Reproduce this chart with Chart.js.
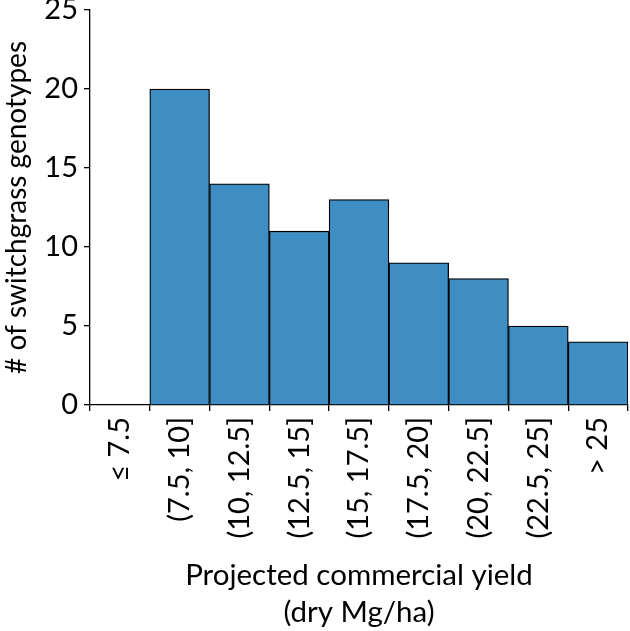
<!DOCTYPE html>
<html>
<head>
<meta charset="utf-8">
<script src="https://cdn.jsdelivr.net/npm/chart.js@4"></script>
<style>
html,body{margin:0;padding:0;background:#fff;}
#wrap{width:630px;height:631px;}
</style>
</head>
<body>
<div id="wrap"><canvas id="c" width="630" height="631"></canvas></div>
<script>
const categories = ["≤ 7.5", "(7.5, 10]", "(10, 12.5]", "(12.5, 15]", "(15, 17.5]", "(17.5, 20]", "(20, 22.5]", "(22.5, 25]", "> 25"];
const counts = [0, 20, 14, 11, 13, 9, 8, 5, 4];
const yTicks = [0, 5, 10, 15, 20, 25];
const xTitle = ["Projected commercial yield", "(dry Mg/ha)"];
const yTitle = "# of switchgrass genotypes";

const FONT = "Lato, sans-serif";
new Chart(document.getElementById('c'), {
  type: 'bar',
  data: {
    labels: categories,
    datasets: [{
      data: counts,
      backgroundColor: 'rgb(62,142,196)',
      borderColor: '#000',
      borderWidth: 1.3,
      barPercentage: 1,
      categoryPercentage: 1
    }]
  },
  options: {
    responsive: false,
    animation: false,
    devicePixelRatio: 1,
    layout: { padding: { top: 10, right: 2, left: 0, bottom: 0 } },
    plugins: { legend: { display: false }, tooltip: { enabled: false } },
    scales: {
      x: {
        offset: true,
        border: { display: true, color: '#000', width: 1.3 },
        grid: { display: true, offset: true, drawOnChartArea: false, drawTicks: true, tickLength: 6, color: '#000', lineWidth: 1.3 },
        ticks: { color: '#000', font: { family: FONT, size: 29 }, maxRotation: 90, minRotation: 90, padding: 6, autoSkip: false },
        title: { display: true, text: xTitle, color: '#000', font: { family: FONT, size: 29.5, lineHeight: 1.25 }, padding: { top: 10, bottom: 0 } },
        afterFit: s => { s.height = 226; s.paddingLeft = 0; s.paddingRight = 0; }
      },
      y: {
        min: 0, max: 25,
        border: { display: true, color: '#000', width: 1.3 },
        grid: { display: true, drawOnChartArea: false, drawTicks: true, tickLength: 6, color: '#000', lineWidth: 1.3 },
        afterBuildTicks: s => { s.ticks = yTicks.map(v => ({ value: v })); },
        ticks: { color: '#000', font: { family: FONT, size: 29 }, padding: 6 },
        title: { display: true, text: yTitle, color: '#000', font: { family: FONT, size: 28 }, padding: { top: 0, bottom: 4 } },
        afterFit: s => { s.width = 90; s.paddingTop = 0; s.paddingBottom = 0; }
      }
    }
  }
});
</script>
</body>
</html>
